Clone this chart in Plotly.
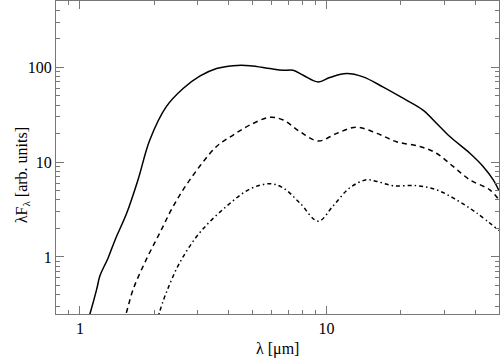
import plotly.graph_objects as go

# Data (wavelength in micron, lambda*F_lambda arb. units)
solid_x = [1.07, 1.098, 1.17, 1.205, 1.30, 1.39, 1.55, 1.72, 1.92, 2.24, 2.62, 3.06, 3.58, 4.18, 4.89,
           5.89, 6.67, 7.32, 8.04, 9.25, 10.3, 12.05, 14.06, 16.9, 20.5, 24.6, 27.9, 31.6, 38.1, 43.1, 47.4, 50]
solid_y = [0.2, 0.25, 0.457, 0.63, 0.97, 1.52, 2.92, 6.5, 17.1, 38.4, 59.7, 80.5, 97, 104, 104,
           97, 93, 93, 82.4, 70.1, 78, 85.9, 79.2, 62.2, 46.9, 35.4, 25.7, 18.6, 12.4, 9.0, 6.5, 5.0]

dashed_x = [1.50, 1.537, 1.645, 1.86, 2.11, 2.39, 2.79, 3.58, 4.18, 4.89, 5.89, 6.67, 7.79, 9.25,
            11.0, 13.2, 16.0, 19.2, 23.9, 27.9, 32.6, 38.1, 45.9, 50]
dashed_y = [0.21, 0.25, 0.457, 0.944, 1.80, 3.42, 6.5, 14.6, 19.3, 24.6, 29.7, 27.8, 21, 16.7,
            20.1, 23.3, 20.1, 16.4, 14.6, 12.4, 9.0, 6.5, 5.1, 4.0]

dashdot_x = [2.05, 2.10, 2.24, 2.54, 3.06, 3.93, 4.89, 5.89, 6.67, 7.79, 9.25, 10.6, 12.4, 14.5,
             16.0, 18.6, 23.2, 27.9, 33.6, 40.5, 50]
dashdot_y = [0.21, 0.26, 0.42, 0.87, 1.80, 3.42, 5.2, 5.92, 5.34, 3.71, 2.38, 3.42, 5.34, 6.5,
             6.25, 5.64, 5.64, 5.1, 4.0, 2.92, 1.9]

x_ticks = [1, 10]
x_tick_labels = ["1", "10"]
y_ticks = [1, 10, 100]
y_tick_labels = ["1", "10", "100"]
x_minor = [0.8, 0.9, 2, 3, 4, 5, 6, 7, 8, 9, 20, 30, 40, 50]
y_minor = [0.3, 0.4, 0.5, 0.6, 0.7, 0.8, 0.9, 2, 3, 4, 5, 6, 7, 8, 9,
           20, 30, 40, 50, 60, 70, 80, 90, 200, 300, 400, 500]

fig = go.Figure()
fig.add_trace(go.Scatter(x=solid_x, y=solid_y, mode="lines", line_shape="spline",
                         line=dict(color="black", width=1.5)))
fig.add_trace(go.Scatter(x=dashed_x, y=dashed_y, mode="lines", line_shape="spline",
                         line=dict(color="black", width=1.5, dash="5px,4px")))
fig.add_trace(go.Scatter(x=dashdot_x, y=dashdot_y, mode="lines", line_shape="spline",
                         line=dict(color="black", width=1.5, dash="4px,3px,1.5px,3px")))

font_family = "Liberation Serif, DejaVu Serif, serif"
axis_color = "#777777"

fig.update_layout(
    width=500, height=358,
    margin=dict(l=56, r=1, t=1, b=44),
    paper_bgcolor="white", plot_bgcolor="white",
    showlegend=False,
    font=dict(family=font_family, size=16, color="black"),
    xaxis=dict(type="log", range=[-0.0969, 1.699], tickvals=x_ticks, ticktext=x_tick_labels,
               ticks="inside", ticklen=8, tickcolor=axis_color, tickwidth=1,
               showline=True, linecolor=axis_color, linewidth=1, mirror="allticks",
               showgrid=False, zeroline=False,
               minor=dict(tickvals=x_minor, ticks="inside", ticklen=4, tickcolor=axis_color,
                          showgrid=False),
               tickfont=dict(family=font_family, size=16)),
    yaxis=dict(type="log", range=[-0.602, 2.699], tickvals=y_ticks, ticktext=y_tick_labels,
               ticks="inside", ticklen=8, tickcolor=axis_color, tickwidth=1,
               showline=True, linecolor=axis_color, linewidth=1, mirror="allticks",
               showgrid=False, zeroline=False,
               minor=dict(tickvals=y_minor, ticks="inside", ticklen=4, tickcolor=axis_color,
                          showgrid=False),
               tickfont=dict(family=font_family, size=16)),
)

fig.add_annotation(text="λ [μm]", xref="paper", yref="paper", x=0.5, y=-0.111,
                   xanchor="center", yanchor="middle", showarrow=False,
                   font=dict(family=font_family, size=16))
fig.add_annotation(text="λF<sub>λ</sub> [arb. units]", xref="paper", yref="paper",
                   x=-0.077, y=0.443, xanchor="center", yanchor="middle", textangle=-90,
                   showarrow=False, font=dict(family=font_family, size=16))

fig.write_html("out.html", config={"displayModeBar": False},
               post_script="document.body.style.margin='0';document.body.style.overflow='hidden';")
